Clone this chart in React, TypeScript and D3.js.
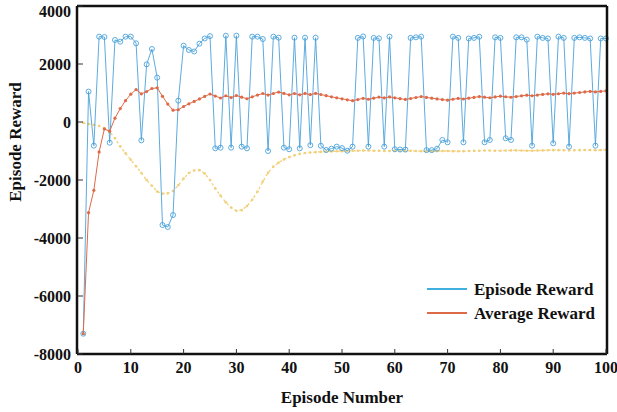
import React from "react";
import * as d3 from "d3";

// Training history: one entry per episode (1..100)
const episodes: number[] = d3.range(1, 101);

const episodeReward: number[] = [
  -7300, 1050, -816, 2943, 2931, -713, 2828, 2770, 2943, 2943,
  2713, -632, 1989, 2517, 1529, -3552, -3621, -3207, 736, 2632,
  2483, 2430, 2700, 2880, 2960, -908, -885, 2977, -885, 2977,
  -850, -908, 2943, 2943, 2862, -1000, 2943, 2908, -885, -940,
  2908, -908, 2907, -800, 2907, -820, -965, -920, -850, -900,
  -990, -850, 2900, 2950, -850, 2900, 2885, -850, 2943, -940,
  -950, -950, 2900, 2920, 2943, -970, -970, -920, -620, -700,
  2943, 2900, -700, 2880, 2900, 2940, -700, -620, 2920, 2900,
  -560, -620, 2920, 2920, 2840, -816, 2943, 2900, 2880, -735,
  2943, 2900, -850, 2900, 2920, 2900, 2880, -816, 2880, 2880,
];

const averageReward: number[] = [
  -7300, -3125, -2355, -1031, -238, -317, 132, 462, 737, 958,
  1117, 971, 1050, 1155, 1180, 884, 619, 407, 423, 534,
  627, 709, 795, 882, 965, 894, 828, 905, 842, 913,
  857, 802, 867, 928, 983, 928, 983, 1033, 984, 936,
  983, 938, 984, 944, 987, 948, 907, 869, 834, 800,
  765, 734, 775, 815, 785, 822, 859, 829, 865, 835,
  806, 778, 811, 844, 877, 849, 821, 795, 774, 753,
  784, 814, 793, 821, 849, 876, 856, 837, 863, 889,
  871, 853, 878, 902, 925, 905, 928, 951, 972, 953,
  975, 996, 976, 997, 1017, 1037, 1056, 1037, 1055, 1073,
];

const episodeQ0: number[] = [
  -30, -70, -100, -140, -220, -340, -560, -840, -1080, -1300,
  -1530, -1760, -2000, -2200, -2400, -2470, -2460, -2380, -2180, -1950,
  -1760, -1670, -1660, -1780, -2000, -2290, -2540, -2770, -2950, -3060,
  -3040, -2900, -2680, -2400, -2050, -1750, -1540, -1400, -1290, -1210,
  -1150, -1100, -1070, -1050, -1040, -1030, -1020, -1015, -1010, -1005,
  -1000, -995, -990, -985, -985, -990, -995, -1000, -1000, -995,
  -990, -990, -995, -1000, -1005, -1010, -1010, -1005, -1000, -1000,
  -1005, -1010, -1005, -1000, -995, -990, -985, -985, -990, -990,
  -985, -980, -980, -985, -990, -990, -985, -980, -975, -970,
  -970, -975, -980, -975, -970, -965, -965, -970, -965, -960,
];

const xTicks: number[] = [0, 10, 20, 30, 40, 50, 60, 70, 80, 90, 100];
const yTicks: number[] = [4000, 2000, 0, -2000, -4000, -6000, -8000];
const legendLabels: string[] = ["Episode Reward", "Average Reward"];

const W = 617;
const H = 412;
const plot = { left: 78, right: 606, top: 6, bottom: 354 };

const BLUE = "#4aa2da";
const BLUE_LEGEND = "#3fb0e0";
const RED = "#df6a48";
const YELLOW = "#f2cf78";
const FONT = "'Liberation Serif', 'Times New Roman', serif";

export default function App() {
  const x = d3.scaleLinear().domain([0, 100]).range([plot.left, plot.right]);
  const y = d3.scaleLinear().domain([-8000, 4000]).range([plot.bottom, plot.top]);

  const line = (vals: number[]) =>
    d3
      .line<number>()
      .x((_, i) => x(episodes[i]))
      .y((d) => y(d))(vals) || "";

  return (
    <div style={{ position: "absolute", left: 0, top: 0 }}>
      <svg width={W} height={H} style={{ display: "block", background: "#fff" }}>
        <rect x={0} y={0} width={W} height={H} fill="#fff" />

        {/* Q0 estimate: pale dashed curve */}
        <path d={line(episodeQ0)} fill="none" stroke={YELLOW} strokeWidth={1.3} strokeDasharray="2.5 2.5" />
        {episodeQ0.map((v, i) => (
          <circle key={"q" + i} cx={x(episodes[i])} cy={y(v)} r={1.3} fill={YELLOW} />
        ))}

        {/* Episode reward */}
        <path d={line(episodeReward)} fill="none" stroke={BLUE} strokeWidth={0.9} />
        {episodeReward.map((v, i) => (
          <circle key={"e" + i} cx={x(episodes[i])} cy={y(v)} r={2.5} fill="none" stroke={BLUE} strokeWidth={0.9} />
        ))}

        {/* Running average */}
        <path d={line(averageReward)} fill="none" stroke={RED} strokeWidth={1} />
        {averageReward.map((v, i) => (
          <circle key={"a" + i} cx={x(episodes[i])} cy={y(v)} r={1.6} fill={RED} />
        ))}

        {/* Axes box */}
        <line x1={plot.left - 1} x2={plot.right + 1} y1={plot.top} y2={plot.top} stroke="#111" strokeWidth={2.5} />
        <line x1={plot.left - 1} x2={plot.right + 1} y1={plot.bottom} y2={plot.bottom} stroke="#111" strokeWidth={2.5} />
        <line x1={plot.left - 1} x2={plot.left - 1} y1={plot.top} y2={plot.bottom} stroke="#111" strokeWidth={2.5} />
        <line x1={plot.right + 1} x2={plot.right + 1} y1={plot.top} y2={plot.bottom} stroke="#111" strokeWidth={2.5} />

        {xTicks.map((t) => (
          <g key={"xt" + t}>
            <line x1={x(t)} x2={x(t)} y1={plot.bottom} y2={plot.bottom - 5} stroke="#333" strokeWidth={1} />
            <text x={x(t)} y={373} textAnchor="middle" fontFamily={FONT} fontWeight="bold" fontSize={16} fill="#111">
              {t}
            </text>
          </g>
        ))}
        {yTicks.map((t) => (
          <g key={"yt" + t}>
            <line x1={plot.left} x2={plot.left + 5} y1={y(t)} y2={y(t)} stroke="#333" strokeWidth={1} />
            <text
              x={71}
              y={Math.max(y(t), 11)}
              dy="0.35em"
              textAnchor="end"
              fontFamily={FONT}
              fontWeight="bold"
              fontSize={16}
              fill="#111"
            >
              {t}
            </text>
          </g>
        ))}

        <text x={(plot.left + plot.right) / 2} y={403} textAnchor="middle" fontFamily={FONT} fontWeight="bold" fontSize={17} fill="#111">
          Episode Number
        </text>
        <text
          transform={`translate(21, 142) rotate(-90)`}
          textAnchor="middle"
          fontFamily={FONT}
          fontWeight="bold"
          fontSize={17}
          fill="#111"
        >
          Episode Reward
        </text>

        {/* Legend */}
        {legendLabels.map((label, i) => (
          <g key={label}>
            <line x1={427} x2={467} y1={289 + i * 24} y2={289 + i * 24} stroke={i === 0 ? BLUE_LEGEND : RED} strokeWidth={2} />
            <text x={474} y={289 + i * 24} dy="0.35em" fontFamily={FONT} fontWeight="bold" fontSize={17} fill="#111">
              {label}
            </text>
          </g>
        ))}
      </svg>
    </div>
  );
}
